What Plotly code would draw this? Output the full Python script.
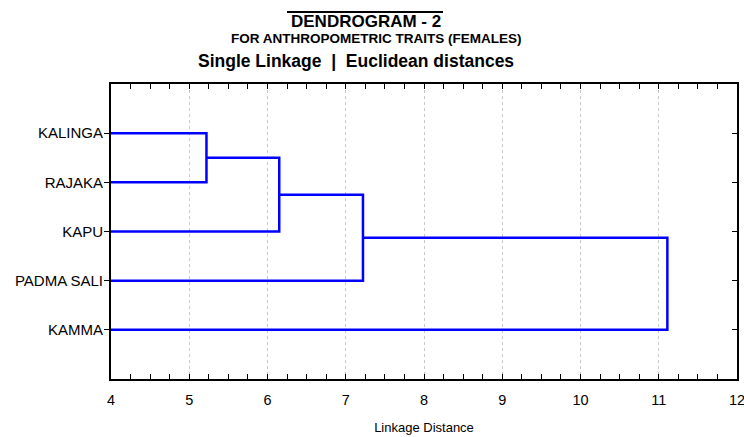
import plotly.graph_objects as go

# ---- data ----
labels = ["KALINGA", "RAJAKA", "KAPU", "PADMA SALI", "KAMMA"]
merge_left = [0, 5, 6, 7]          # cluster ids (leaves 0..4, new clusters 5..)
merge_right = [1, 2, 3, 4]
merge_dist = [5.22, 6.15, 7.22, 11.11]
x_ticks = [4, 5, 6, 7, 8, 9, 10, 11, 12]

BLUE = "#0000FF"
FONT = "Liberation Sans, Arial, sans-serif"

# ---- build dendrogram paths ----
pos = {i: (i + 1, 0.0) for i in range(len(labels))}   # id -> (y position, height)
xs, ys = [], []
for k, (a, b, d) in enumerate(zip(merge_left, merge_right, merge_dist)):
    ya, ha = pos[a]
    yb, hb = pos[b]
    xs += [ha, d, d, hb, None]
    ys += [ya, ya, yb, yb, None]
    pos[len(labels) + k] = ((ya + yb) / 2, d)

fig = go.Figure()
fig.add_trace(go.Scatter(x=xs, y=ys, mode="lines",
                         line=dict(color=BLUE, width=2.5),
                         hoverinfo="skip", showlegend=False))
# invisible trace to activate right axis
fig.add_trace(go.Scatter(x=[None], y=[None], yaxis="y2", showlegend=False))

W, H = 744, 437
L, R, T, B = 111, 7, 84, 58
pw, ph = W - L - R, H - T - B

def px(xp):
    return (xp - L) / pw

def py(yp):
    return (H - B - yp) / ph

fig.update_layout(
    width=W, height=H,
    margin=dict(l=L, r=R, t=T, b=B, pad=0, autoexpand=False),
    paper_bgcolor="white", plot_bgcolor="white",
    font=dict(family=FONT, color="black"),
    xaxis=dict(
        range=[4, 12], tickvals=x_ticks, ticktext=[str(v) for v in x_ticks],
        showgrid=True, gridcolor="#c8c8c8", gridwidth=1, griddash="dot",
        showline=True, linecolor="black", linewidth=2, mirror="allticks",
        ticks="inside", ticklen=5, tickwidth=1, tickcolor="black",
        minor=dict(dtick=0.25, ticks="inside", ticklen=2.5, tickwidth=1,
                   tickcolor="black", showgrid=False),
        tickfont=dict(size=14.5), zeroline=False, automargin=False,
        ticklabelstandoff=7, ticklabeloverflow="allow",
        title=dict(text="Linkage Distance", font=dict(size=13), standoff=15),
    ),
    yaxis=dict(
        range=[6, 0], tickvals=[1, 2, 3, 4, 5], ticktext=labels,
        showgrid=False, zeroline=False, automargin=False,
        showline=True, linecolor="black", linewidth=2,
        ticks="outside", ticklen=5, tickwidth=1, tickcolor="black",
        tickfont=dict(size=15), ticklabelstandoff=-2,
    ),
    yaxis2=dict(
        overlaying="y", side="right", range=[6, 0], tickvals=[1, 2, 3, 4, 5],
        showticklabels=False, showgrid=False, zeroline=False, automargin=False,
        showline=True, linecolor="black", linewidth=2,
        ticks="inside", ticklen=5, tickwidth=1, tickcolor="black",
    ),
    annotations=[
        dict(text="<b>DENDROGRAM - 2</b>", xref="paper", yref="paper",
             x=px(365.5), y=py(21.5), xanchor="center", yanchor="middle",
             showarrow=False, font=dict(size=17)),
        dict(text="<b>FOR ANTHROPOMETRIC TRAITS (FEMALES)</b>", xref="paper", yref="paper",
             x=px(375.5), y=py(38), xanchor="center", yanchor="middle",
             showarrow=False, font=dict(size=13.5)),
        dict(text="<b>Single Linkage  |  Euclidean distances</b>", xref="paper", yref="paper",
             x=px(356), y=py(61.5), xanchor="center", yanchor="middle",
             showarrow=False, font=dict(size=17.5)),
    ],
    shapes=[
        dict(type="line", xref="paper", yref="paper",
             x0=px(287), x1=px(443), y0=py(12), y1=py(12),
             line=dict(color="black", width=2)),
    ],
)

fig.write_html("out.html", config={"displayModeBar": False},
               post_script="document.body.style.margin='0';document.body.style.overflow='hidden';")
